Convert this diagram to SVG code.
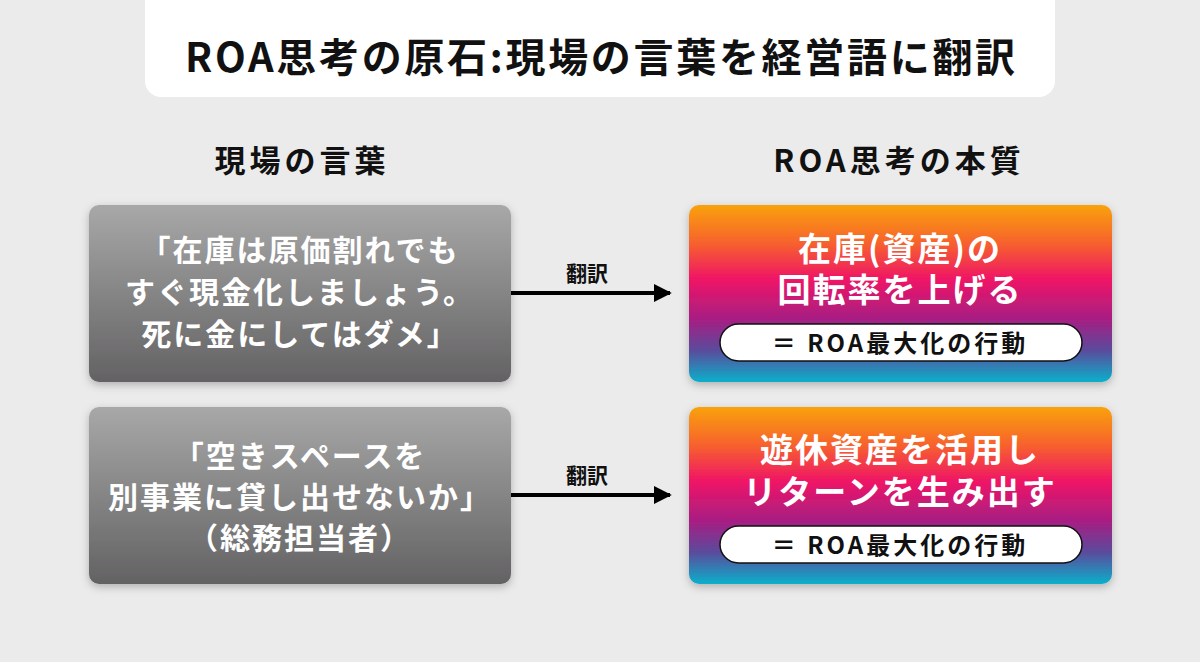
<svg xmlns="http://www.w3.org/2000/svg" width="1200" height="662" viewBox="0 0 1200 662">
<defs>
<linearGradient id="gray" x1="0" y1="0" x2="0" y2="1">
<stop offset="0" stop-color="#a8a8a8"/>
<stop offset="1" stop-color="#636263"/>
</linearGradient>
<linearGradient id="hot" x1="0" y1="0" x2="0" y2="1">
<stop offset="0" stop-color="#f9a20c"/>
<stop offset="0.22" stop-color="#f7602e"/>
<stop offset="0.42" stop-color="#ef1566"/>
<stop offset="0.65" stop-color="#a51f84"/>
<stop offset="0.82" stop-color="#5b4a9c"/>
<stop offset="1" stop-color="#0bb0cb"/>
</linearGradient>
<filter id="sh" x="-10%" y="-10%" width="120%" height="130%">
<feDropShadow dx="0" dy="3" stdDeviation="4" flood-color="#000" flood-opacity="0.25"/>
</filter>
<marker id="arr" viewBox="0 0 10 10" refX="9" refY="5" markerWidth="4.5" markerHeight="4.5" markerUnits="strokeWidth" orient="auto">
<path d="M0,0 L10,5 L0,10 z" fill="#000"/>
</marker>
<style>
text{font-family:"Noto Sans CJK JP","Noto Sans",sans-serif;font-weight:700;text-anchor:middle}
.w{fill:#fff;font-size:30px;letter-spacing:2px}
.h{fill:#fff;font-size:33px;letter-spacing:2px}
.p{fill:#111;font-size:24px;letter-spacing:3px}
.col{fill:#111;font-size:31px;letter-spacing:4px}
.lab{fill:#111;font-size:21px}
.pill{fill:#fff;stroke:#111;stroke-width:1.5}
</style>
</defs>
<rect width="1200" height="662" fill="#ebebeb"/>
<g id="title">
<rect x="145" y="-20" width="910" height="117" rx="16" fill="#fff"/>
<text x="600" y="72" font-size="40" fill="#111" textLength="830" lengthAdjust="spacing">ROA思考の原石:現場の言葉を経営語に翻訳</text>
</g>
<g id="headers">
<text class="col" x="302" y="172">現場の言葉</text>
<text class="col" x="899" y="172">ROA思考の本質</text>
</g>
<g id="connectors" stroke="#000" stroke-width="4" fill="none">
<line x1="511" y1="293" x2="670" y2="293" marker-end="url(#arr)"/>
<line x1="511" y1="495" x2="670" y2="495" marker-end="url(#arr)"/>
</g>
<g id="labels">
<text class="lab" x="587" y="281">翻訳</text>
<text class="lab" x="587" y="483">翻訳</text>
</g>
<g id="left1">
<rect x="89" y="205" width="422" height="177" rx="10" fill="url(#gray)" filter="url(#sh)"/>
<text class="w"><tspan x="300" y="261">「在庫は原価割れでも</tspan><tspan x="300" y="303">すぐ現金化しましょう。</tspan><tspan x="300" y="345">死に金にしてはダメ」</tspan></text>
</g>
<g id="left2">
<rect x="89" y="407" width="422" height="177" rx="10" fill="url(#gray)" filter="url(#sh)"/>
<text class="w"><tspan x="300" y="467">「空きスペースを</tspan><tspan x="300" y="508">別事業に貸し出せないか」</tspan><tspan x="300" y="549">（総務担当者）</tspan></text>
</g>
<g id="right1">
<rect x="689" y="205" width="423" height="177" rx="10" fill="url(#hot)" filter="url(#sh)"/>
<text class="h"><tspan x="900" y="261">在庫(資産)の</tspan><tspan x="900" y="302">回転率を上げる</tspan></text>
<rect class="pill" x="720" y="324" width="362" height="37" rx="18.5"/>
<text class="p" x="900" y="352">＝ ROA最大化の行動</text>
</g>
<g id="right2">
<rect x="689" y="407" width="423" height="177" rx="10" fill="url(#hot)" filter="url(#sh)"/>
<text class="h"><tspan x="900" y="462">遊休資産を活用し</tspan><tspan x="900" y="504">リターンを生み出す</tspan></text>
<rect class="pill" x="720" y="526" width="362" height="37" rx="18.5"/>
<text class="p" x="900" y="554">＝ ROA最大化の行動</text>
</g>
</svg>
